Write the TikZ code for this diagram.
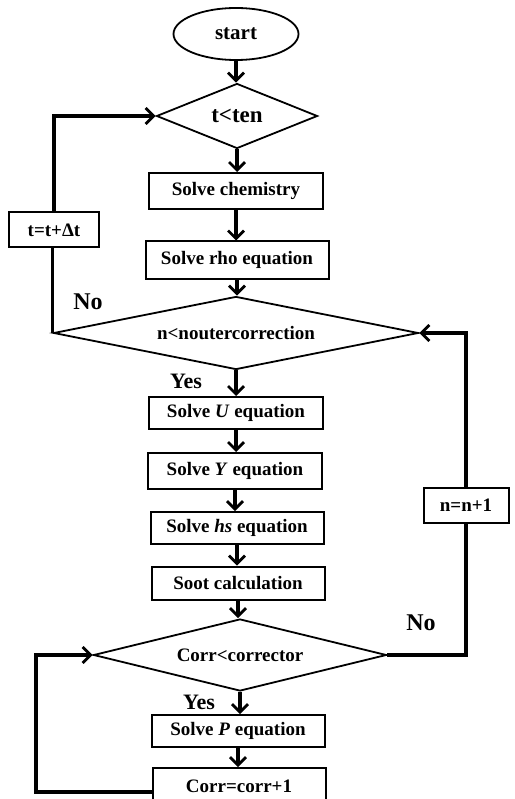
\documentclass[tikz,border=0pt]{standalone}
\usepackage{fontspec}
\setmainfont{Liberation Serif}
\usetikzlibrary{shapes.geometric,arrows.meta}
\begin{document}
\begin{tikzpicture}[x=1pt,y=-1pt,
  box/.style={draw,line width=2pt,rectangle,inner sep=0pt,font=\fontsize{19}{21}\selectfont\bfseries},
  dec/.style={draw,line width=1.8pt,diamond,inner sep=0pt,aspect=4,font=\fontsize{19}{21}\selectfont\bfseries},
  conn/.style={line width=3.4pt},
  arr/.style={line width=3.4pt,-{Straight Barb[length=8pt,width=16pt,line width=2.8pt]}},
  lbl/.style={font=\fontsize{24}{26}\selectfont\bfseries,inner sep=0pt}]
\useasboundingbox (0,0) rectangle (514,799);
\node[draw,ellipse,line width=1.8pt,minimum width=125pt,minimum height=52pt,inner sep=0pt,font=\fontsize{21}{23}\selectfont\bfseries] (start) at (236,34) {start};
\node[dec,minimum width=161pt,minimum height=65pt,aspect=2.5,font=\fontsize{23}{25}\selectfont\bfseries] (d1) at (237,116) {t<ten};
\node[box,minimum width=174pt,minimum height=36pt] (chem) at (236,191) {Solve chemistry};
\node[box,minimum width=183pt,minimum height=37pt] (rho) at (237,260) {Solve rho equation};
\node[dec,minimum width=365pt,minimum height=73pt,aspect=5] (d2) at (236,333) {n<noutercorrection};
\node[box,minimum width=174pt,minimum height=32pt] (U) at (236,413) {Solve \textit{U} equation};
\node[box,minimum width=174pt,minimum height=36pt] (Y) at (235,471) {Solve \textit{Y} equation};
\node[box,minimum width=173pt,minimum height=32pt] (hs) at (237,528) {Solve \textit{hs} equation};
\node[box,minimum width=173pt,minimum height=33pt] (soot) at (238,583) {Soot calculation};
\node[dec,minimum width=293pt,minimum height=72pt,aspect=4] (d3) at (240,655) {Corr<corrector};
\node[box,minimum width=173pt,minimum height=32pt] (P) at (238,731) {Solve \textit{P} equation};
\node[box,minimum width=173pt,minimum height=36pt] (corr) at (239,786) {Corr=corr+1};
\node[box,minimum width=90pt,minimum height=35pt] (tdt) at (54,230) {t=t+Δt};
\node[box,minimum width=85pt,minimum height=35pt] (nn) at (466,505) {n=n+1};
\node[lbl] (no1) at (88,302) {No};
\node[lbl] (no2) at (421,623) {No};
\node[lbl,font=\fontsize{22}{24}\selectfont\bfseries] (yes1) at (186,381) {Yes};
\node[lbl,font=\fontsize{22}{24}\selectfont\bfseries] (yes2) at (199,702) {Yes};
\coordinate (lc) at (36,655);
\draw[arr] (start.south) -- (start.south |- d1.north);
\draw[arr] (d1.south) -- (d1.south |- chem.north);
\draw[arr] (chem.south) -- (chem.south |- rho.north);
\draw[arr] (rho.south) -- (rho.south |- d2.north);
\draw[arr] (d2.south) -- (d2.south |- U.north);
\draw[arr] (U.south) -- (U.south |- Y.north);
\draw[arr] (Y.south) -- (Y.south |- hs.north);
\draw[arr] (hs.south) -- (hs.south |- soot.north);
\draw[arr] (soot.south) -- (soot.south |- d3.north);
\draw[arr] (d3.south) -- (d3.south |- P.north);
\draw[arr] (P.south) -- (P.south |- corr.north);
\draw[conn] (d2.west) -- (d2.west |- tdt.south);
\draw[arr] (tdt.north) |- (d1.west);
\draw[conn] (d3.east) -| (nn.south);
\draw[arr] (nn.north) |- (d2.east);
\draw[arr] ([yshift=-6pt]corr.west) -| (lc) -- (d3.west);
\end{tikzpicture}
\end{document}
